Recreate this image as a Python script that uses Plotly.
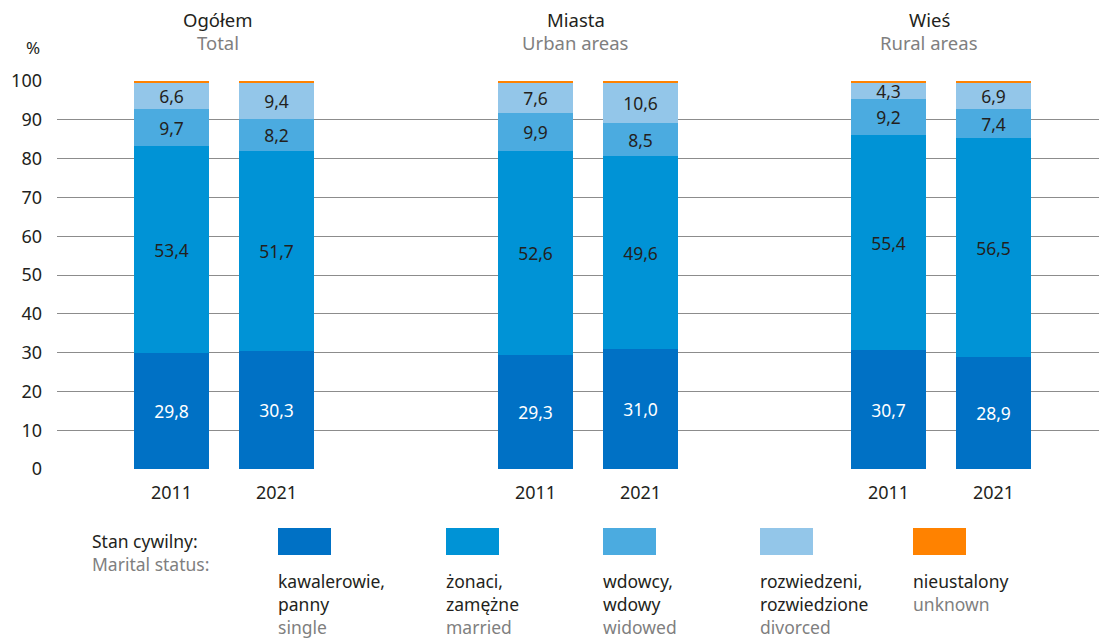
import plotly.graph_objects as go

# ---------------- data ----------------
groups_pl = ["Ogółem", "Miasta", "Wieś"]
groups_en = ["Total", "Urban areas", "Rural areas"]
years = ["2011", "2021"]

single = [29.8, 30.3, 29.3, 31.0, 30.7, 28.9]
married = [53.4, 51.7, 52.6, 49.6, 55.4, 56.5]
widowed = [9.7, 8.2, 9.9, 8.5, 9.2, 7.4]
divorced = [6.6, 9.4, 7.6, 10.6, 4.3, 6.9]
unknown = [0.5, 0.4, 0.6, 0.3, 0.4, 0.3]

series_pl = [["kawalerowie,", "panny"], ["żonaci,", "zamężne"], ["wdowcy,", "wdowy"],
             ["rozwiedzeni,", "rozwiedzione"], ["nieustalony"]]
series_en = ["single", "married", "widowed", "divorced", "unknown"]
colors = ["#0071C5", "#0093D6", "#4BABE0", "#93C6E9", "#FF8200"]
text_colors = ["#FFFFFF", "#231F20", "#231F20", "#231F20", "#231F20"]
show_labels = [True, True, True, True, False]
series_values = [single, married, widowed, divorced, unknown]

yticks = [0, 10, 20, 30, 40, 50, 60, 70, 80, 90, 100]

# ---------------- layout helpers ----------------
OFF = 8                      # page body margin of the browser
W, H = 1107 - OFF, 638 - OFF
L, R = 57, 1100              # plot area in reference px
T, B = 81, 469
def px(x):
    return (x - L) / (R - L)
def py(y):
    return (B - y) / (B - T)

FONT = "Noto Sans"
DARK = "#231F20"
GRAY = "#7F7F7F"
GRID = "#8C8C8C"

bounds = [57, 406, 765, 1100]
first_cat_px = [171.5, 535.5, 888.5]
step = 105.0
barw = 75.0 / step
header_x = [218, 575.5, 929]

fig = go.Figure()
for g in range(3):
    xa = "x" if g == 0 else f"x{g+1}"
    ya = "y" if g == 0 else f"y{g+1}"
    for s in range(5):
        vals = series_values[s][2 * g:2 * g + 2]
        txt = [f"{v:.1f}".replace(".", ",") for v in vals] if show_labels[s] else ["", ""]
        fig.add_trace(go.Bar(
            x=years, y=vals, xaxis=xa, yaxis=ya,
            marker=dict(color=colors[s], line=dict(width=0)),
            width=barw, text=txt, textposition="inside",
            insidetextanchor="middle",
            textfont=dict(color=text_colors[s], size=17.5, family=FONT),
            showlegend=False, hoverinfo="skip",
        ))
    lo = bounds[g]; hi = bounds[g + 1]
    rng = [-(first_cat_px[g] - lo) / step, (hi - first_cat_px[g]) / step]
    key_x = "xaxis" if g == 0 else f"xaxis{g+1}"
    key_y = "yaxis" if g == 0 else f"yaxis{g+1}"
    fig.layout[key_x] = dict(
        domain=[px(lo), px(hi)], range=rng, type="category",
        anchor=ya, showgrid=False, zeroline=False, showline=False,
        ticks="", tickfont=dict(size=18, color=DARK, family=FONT),
        ticklabelstandoff=11, automargin=False,
    )
    fig.layout[key_y] = dict(
        domain=[0, 1], range=[0, 100], anchor=xa,
        tickvals=yticks, showgrid=True, gridcolor=GRID, gridwidth=1,
        zeroline=False, showline=False, ticks="",
        showticklabels=(g == 0),
        tickfont=dict(size=18, color=DARK, family=FONT),
        ticklabelstandoff=14, automargin=False,
    )

annotations = []
def label(x, y, text, color=DARK, size=18, xanchor="center"):
    annotations.append(dict(x=px(x), y=py(y), xref="paper", yref="paper",
                            xanchor=xanchor, yanchor="middle", align=xanchor if xanchor != "center" else "center",
                            text=text, showarrow=False,
                            font=dict(size=size, color=color, family=FONT)))

for g in range(3):
    label(header_x[g], 20, groups_pl[g], DARK, 18.5)
    label(header_x[g], 43, groups_en[g], GRAY, 18.5)
label(33, 47, "%", DARK, 17)
label(90, 552, f"Stan cywilny:<br><span style='color:{GRAY}'>Marital status:</span>", DARK, 17.5, "left")

shapes = []
legend_x = [278, 446, 603, 760, 913]
first_line = 581
spacing = 22.75
for s in range(5):
    x0 = legend_x[s]
    shapes.append(dict(type="rect", xref="paper", yref="paper",
                       x0=px(x0), x1=px(x0 + 53), y0=py(528), y1=py(555),
                       fillcolor=colors[s], line=dict(width=0)))
    lines = series_pl[s]
    n = len(lines) + 1
    txt = "<br>".join(lines) + f"<br><span style='color:{GRAY}'>{series_en[s]}</span>"
    label(x0 - 2, first_line + spacing * (n - 1) / 2, txt, DARK, 17.5, "left")

fig.update_layout(
    width=W, height=H, barmode="stack",
    margin=dict(l=L - OFF, r=(1107 - R), t=T - OFF, b=638 - B, pad=0),
    paper_bgcolor="white", plot_bgcolor="white",
    font=dict(family=FONT, color=DARK),
    uniformtext=dict(minsize=17.5, mode="show"),
    annotations=annotations, shapes=shapes, bargap=0,
)

fig.write_html("out.html")
